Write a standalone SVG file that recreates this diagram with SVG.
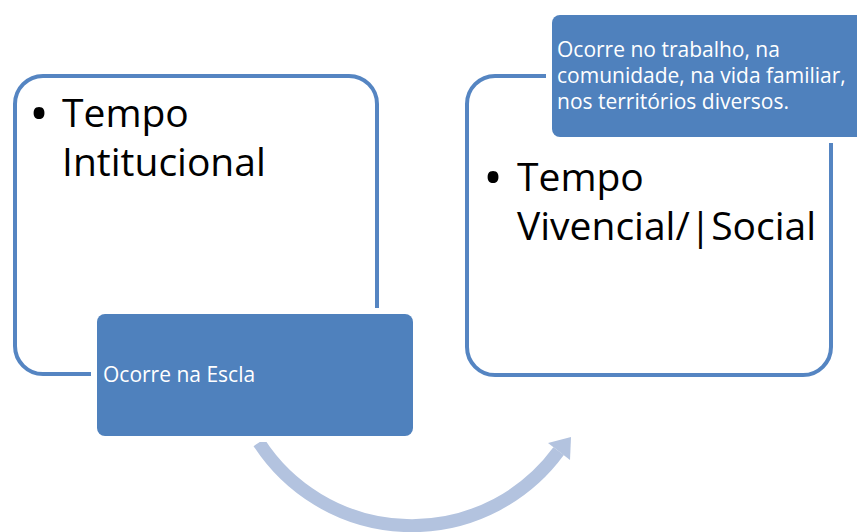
<svg xmlns="http://www.w3.org/2000/svg" width="857" height="532" viewBox="0 0 857 532">
<style>
.outline{fill:#fff;stroke:#5585c2;stroke-width:4}
.tag{fill:#4f81bd;stroke:#fff;stroke-width:12;paint-order:stroke}
.big{font-family:"Open Sans","Liberation Sans",sans-serif;font-size:39px;fill:#000}
.bul{font-family:"Open Sans","Liberation Sans",sans-serif;font-size:52px;fill:#000;text-anchor:middle}
.small{font-family:"Open Sans","Liberation Sans",sans-serif;font-size:21px;fill:#fff}
</style>
<rect width="857" height="532" fill="#fff"/>
<g id="connectors">
<path d="M259,442.6 A182,182 0 0 0 558.6,451.2" fill="none" stroke="#b3c3df" stroke-width="13"/>
<polygon points="571,437 570,460 548,443" fill="#b3c3df"/>
</g>
<g id="node-institucional">
<rect class="outline" x="15" y="76" width="362" height="298" rx="28"/>
<text class="bul" x="39" y="132">•</text>
<text class="big" x="62" y="127">Tempo</text>
<text class="big" x="62" y="176">Intitucional</text>
</g>
<g id="node-escola">
<rect class="tag" x="97" y="314" width="316" height="122" rx="8"/>
<text class="small" x="103" y="382">Ocorre na Escla</text>
</g>
<g id="node-vivencial">
<rect class="outline" x="467" y="76" width="364" height="299" rx="28"/>
<text class="bul" x="493" y="196">•</text>
<text class="big" x="517" y="190.5">Tempo</text>
<text class="big" x="517" y="239.5">Vivencial/|Social</text>
</g>
<g id="node-social">
<rect class="tag" x="552" y="15" width="316" height="122" rx="8"/>
<text class="small" x="557" y="57">Ocorre no trabalho, na</text>
<text class="small" x="557" y="83">comunidade, na vida familiar,</text>
<text class="small" x="557" y="109">nos territórios diversos.</text>
</g>
</svg>
